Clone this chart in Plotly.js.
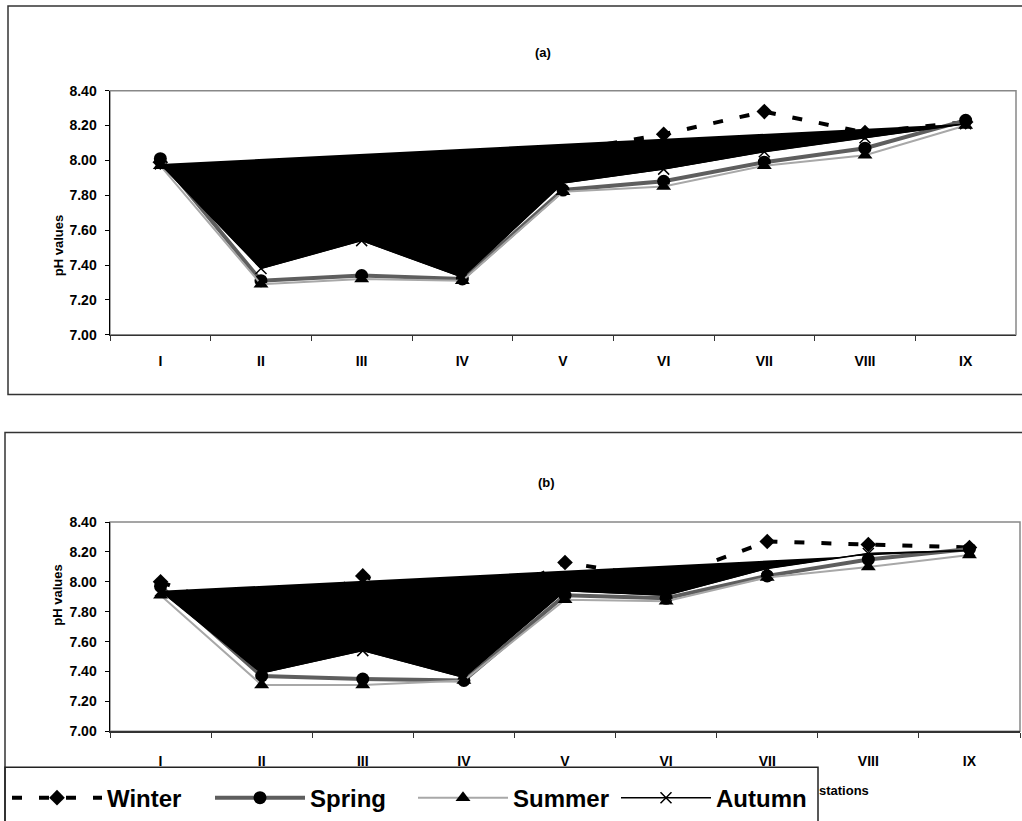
<!DOCTYPE html>
<html>
<head>
<meta charset="utf-8">
<script src="https://cdn.plot.ly/plotly-3.0.1.min.js"></script>
<style>
  html, body { margin: 0; padding: 0; background: #fff; }
  #chart { width: 1022px; height: 821px; }
</style>
</head>
<body>
<div id="chart"></div>
<script>
// ---------- data ----------
var stations = ['I', 'II', 'III', 'IV', 'V', 'VI', 'VII', 'VIII', 'IX'];
var yTickVals = [7.0, 7.2, 7.4, 7.6, 7.8, 8.0, 8.2, 8.4];
var seriesNames = ['Winter', 'Spring', 'Summer', 'Autumn'];

// panel (a)
var winterA = [7.99, 7.62, 7.74, 7.70, 8.05, 8.15, 8.28, 8.16, 8.22];
var springA = [8.01, 7.31, 7.34, 7.32, 7.83, 7.88, 7.99, 8.07, 8.23];
var summerA = [7.97, 7.29, 7.32, 7.31, 7.82, 7.85, 7.97, 8.03, 8.20];
var autumnA = [7.98, 7.38, 7.54, 7.33, 7.87, 7.95, 8.05, 8.13, 8.21];

// panel (b)
var winterB = [8.00, 7.75, 8.04, 7.80, 8.13, 8.02, 8.27, 8.25, 8.23];
var springB = [7.97, 7.37, 7.35, 7.34, 7.91, 7.89, 8.04, 8.15, 8.22];
var summerB = [7.91, 7.31, 7.31, 7.34, 7.88, 7.87, 8.03, 8.10, 8.18];
var autumnB = [7.94, 7.39, 7.54, 7.36, 7.94, 7.91, 8.09, 8.19, 8.21];

var panelTitles = ['(a)', '(b)'];
var yTitle = 'pH values';
var xTitleVisible = 'stations';

// ---------- styling ----------
var W = 1022, H = 821;
function px(x) { return x / W; }
function py(y) { return 1 - y / H; }
var FONT = 'Arial, "Liberation Sans", Helvetica, sans-serif';

function makeTraces(w, s, su, au, xa, ya, legend) {
  return [
    { x: stations, y: w, xaxis: xa, yaxis: ya, name: seriesNames[0], showlegend: legend,
      mode: 'lines+markers', line: { color: '#000', width: 4, dash: '10px,17px' },
      marker: { symbol: 'diamond', size: 12, color: '#000' } },
    { x: stations, y: s, xaxis: xa, yaxis: ya, name: seriesNames[1], showlegend: legend,
      mode: 'lines+markers', line: { color: '#5e5e5e', width: 4 },
      marker: { symbol: 'circle', size: 13, color: '#000' } },
    { x: stations, y: su, xaxis: xa, yaxis: ya, name: seriesNames[2], showlegend: legend,
      mode: 'lines+markers', line: { color: '#a8a8a8', width: 2 },
      marker: { symbol: 'triangle-up', size: 13, color: '#000' } },
    { x: stations, y: au, xaxis: xa, yaxis: ya, name: seriesNames[3], showlegend: false,
      mode: 'lines', fill: 'toself', fillcolor: '#000', line: { color: '#000', width: 1 } },
    { x: stations, y: au, xaxis: xa, yaxis: ya, name: seriesNames[3], showlegend: legend,
      mode: 'lines+markers', line: { color: '#000', width: 1.5 },
      marker: { symbol: 'x-thin-open', size: 11, color: '#000', line: { color: '#000', width: 1.5 } } }
  ];
}

var data = [].concat(
  makeTraces(winterA, springA, summerA, autumnA, 'x', 'y', false),
  makeTraces(winterB, springB, summerB, autumnB, 'x2', 'y2', true)
);

function xAxis(domain, anchor, standoff) {
  return {
    domain: domain, anchor: anchor, type: 'category', range: [-0.5, 8.5],
    showgrid: false, zeroline: false, showline: true, linecolor: '#333', linewidth: 1.5,
    ticks: 'outside', tickson: 'boundaries', ticklen: 5, tickcolor: '#333', tickwidth: 1,
    ticklabelstandoff: standoff,
    tickfont: { family: FONT, size: 14, weight: 'bold', color: '#000' },
    fixedrange: true
  };
}
function yAxis(domain, anchor) {
  return {
    domain: domain, anchor: anchor, range: [7.0, 8.4], tickvals: yTickVals, tickformat: '.2f',
    showgrid: false, zeroline: false, showline: true, linecolor: '#000', linewidth: 1.5,
    ticks: 'outside', ticklen: 4, tickcolor: '#000', tickwidth: 1, ticklabelstandoff: 5,
    tickfont: { family: FONT, size: 14, weight: 'bold', color: '#000' },
    fixedrange: true
  };
}

var layout = {
  width: W, height: H,
  margin: { l: 0, r: 0, t: 0, b: 0 },
  paper_bgcolor: '#fff', plot_bgcolor: 'rgba(0,0,0,0)',
  showlegend: true,
  hovermode: false,
  xaxis: xAxis([px(110), px(1016)], 'y', 13),
  yaxis: yAxis([py(336), py(91)], 'x'),
  xaxis2: xAxis([px(110), px(1020)], 'y2', 16),
  yaxis2: yAxis([py(734), py(524)], 'x2'),
  legend: {
    orientation: 'h', x: px(7), xanchor: 'left', y: py(801), yanchor: 'middle',
    bgcolor: 'rgba(0,0,0,0)', borderwidth: 0, itemwidth: 90,
    entrywidth: 98, entrywidthmode: 'pixels',
    font: { family: FONT, size: 24, weight: 'bold', color: '#000' }
  },
  shapes: [
    // outer frames
    { type: 'rect', xref: 'paper', yref: 'paper', x0: px(8), x1: 1.02, y0: py(396), y1: py(6),
      line: { color: '#333', width: 1.5 }, layer: 'below' },
    { type: 'rect', xref: 'paper', yref: 'paper', x0: px(5), x1: 1.02, y0: -0.05, y1: py(434),
      line: { color: '#333', width: 1.5 }, layer: 'below' },
    // plot area frames (grey)
    { type: 'rect', xref: 'x domain', yref: 'y domain', x0: 0, x1: 1, y0: 0, y1: 1,
      line: { color: '#888', width: 1.5 }, layer: 'below' },
    { type: 'rect', xref: 'x2 domain', yref: 'y2 domain', x0: 0, x1: 1, y0: 0, y1: 1,
      line: { color: '#888', width: 1.5 }, layer: 'below' },
    // legend box
    { type: 'rect', xref: 'paper', yref: 'paper', x0: px(5), x1: px(818), y0: -0.05, y1: py(770),
      line: { color: '#222', width: 1.5 }, fillcolor: 'rgba(0,0,0,0)', layer: 'above' }
  ],
  annotations: [
    { text: panelTitles[0], xref: 'paper', yref: 'paper', x: px(543), y: py(53), yanchor: 'middle',
      showarrow: false, font: { family: FONT, size: 13, weight: 'bold', color: '#000' } },
    { text: panelTitles[1], xref: 'paper', yref: 'paper', x: px(546), y: py(484), yanchor: 'middle',
      showarrow: false, font: { family: FONT, size: 13, weight: 'bold', color: '#000' } },
    { text: yTitle, xref: 'paper', yref: 'paper', x: px(49), y: py(214), textangle: -90,
      showarrow: false, font: { family: FONT, size: 13, weight: 'bold', color: '#000' } },
    { text: yTitle, xref: 'paper', yref: 'paper', x: px(48), y: py(630), textangle: -90,
      showarrow: false, font: { family: FONT, size: 13, weight: 'bold', color: '#000' } },
    { text: xTitleVisible, xref: 'paper', yref: 'paper', x: px(817), xanchor: 'left', y: py(793), yanchor: 'middle',
      showarrow: false, font: { family: FONT, size: 13, weight: 'bold', color: '#000' } }
  ]
};

Plotly.newPlot('chart', data, layout, { displayModeBar: false, staticPlot: true });
</script>
</body>
</html>
